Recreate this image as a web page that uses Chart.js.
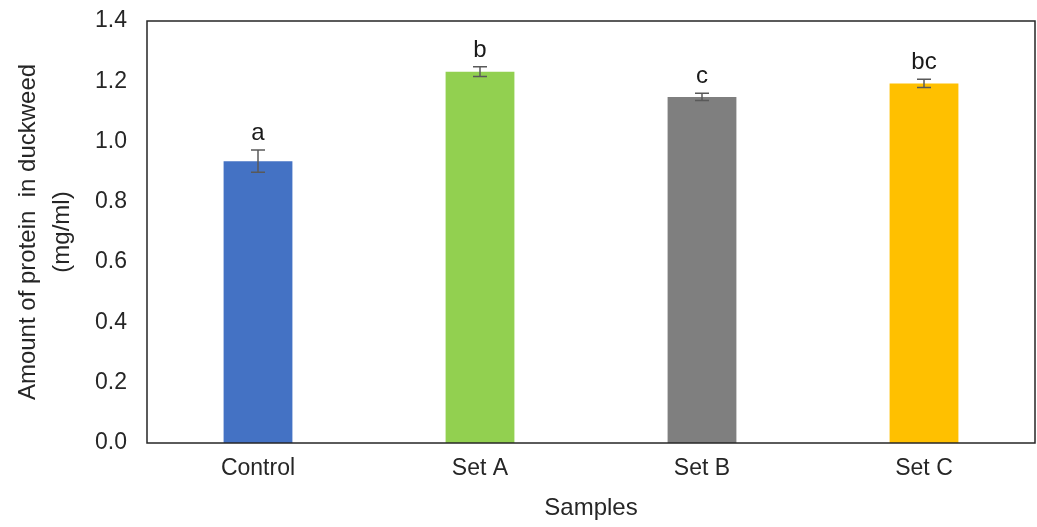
<!DOCTYPE html>
<html>
<head>
<meta charset="utf-8">
<script src="https://cdn.jsdelivr.net/npm/chart.js@4/dist/chart.umd.min.js"></script>
<style>
  html, body { margin: 0; padding: 0; background: #fff; }
  #wrap { width: 1037px; height: 527px; }
</style>
</head>
<body>
<div id="wrap"><canvas id="chart1"></canvas></div>
<script>
// dados
const samples = ["Control", "Set A", "Set B", "Set C"];
const protein = [0.935, 1.232, 1.148, 1.193];
const protein_err = [0.037, 0.016, 0.012, 0.014];
const sig_letters = ["a", "b", "c", "bc"];
const bar_colors = ["#4472C4", "#92D050", "#7F7F7F", "#FFC000"];

const FONT = "'Liberation Sans', Arial, sans-serif";

// barras de erro, letras e moldura
const extras = {
    id: 'extras',
    afterDatasetsDraw(chart) {
        const ctx = chart.ctx;
        const x = chart.scales.x;
        const y = chart.scales.y;
        ctx.save();
        ctx.strokeStyle = '#595959';
        ctx.lineWidth = 1.5;
        for (let i = 0; i < protein.length; i++) {
            const cx = x.getPixelForValue(i);
            const top = y.getPixelForValue(protein[i] + protein_err[i]);
            const bot = y.getPixelForValue(protein[i] - protein_err[i]);
            ctx.beginPath();
            ctx.moveTo(cx, top); ctx.lineTo(cx, bot);
            ctx.moveTo(cx - 7, top); ctx.lineTo(cx + 7, top);
            ctx.moveTo(cx - 7, bot); ctx.lineTo(cx + 7, bot);
            ctx.stroke();

            ctx.fillStyle = '#1a1a1a';
            ctx.font = "24px " + FONT;
            ctx.textAlign = 'center';
            ctx.textBaseline = 'alphabetic';
            ctx.fillText(sig_letters[i], cx, top - 10);
        }
        const a = chart.chartArea;
        ctx.strokeStyle = '#262626';
        ctx.lineWidth = 1.5;
        ctx.strokeRect(a.left, a.top, a.right - a.left, a.bottom - a.top);
        ctx.restore();
    }
};

var ctx1 = document.getElementById("chart1").getContext("2d");
var chart1 = new Chart(ctx1, {
    type: "bar",
    data: {
        labels: samples,
        datasets: [
            {
                data: protein,
                backgroundColor: bar_colors,
                categoryPercentage: 1,
                barPercentage: 0.31,
            },
        ],
    },
    options: {
        responsive: true,
        maintainAspectRatio: false,
        animation: false,
        layout: { padding: { top: 21, right: 2, left: 0, bottom: 0 } },
        plugins: {
            legend: { display: false },
            tooltip: { enabled: false },
        },
        scales: {
            x: {
                grid: { display: false, drawTicks: false },
                border: { display: false },
                ticks: { color: '#262626', font: { family: FONT, size: 23 }, padding: 12 },
                title: {
                    display: true,
                    text: "Samples",
                    color: '#262626',
                    font: { family: FONT, size: 24 },
                    padding: { top: 9 },
                },
                afterFit(scale) { scale.height = 84; scale.paddingLeft = 0; scale.paddingRight = 0; },
            },
            y: {
                min: 0,
                max: 1.4,
                grid: { display: false, drawTicks: false },
                border: { display: false },
                ticks: {
                    stepSize: 0.2,
                    color: '#262626',
                    font: { family: FONT, size: 23 },
                    padding: 20,
                    callback: v => v.toFixed(1),
                },
                title: {
                    display: true,
                    text: ["Amount of protein  in duckweed", "(mg/ml)"],
                    color: '#262626',
                    font: { family: FONT, size: 24, lineHeight: 1.4 },
                    padding: { bottom: 0, top: 12 },
                },
                afterFit(scale) { scale.width = 147; scale.paddingTop = 0; scale.paddingBottom = 0; },
            },
        },
    },
    plugins: [extras],
});
</script>
</body>
</html>
